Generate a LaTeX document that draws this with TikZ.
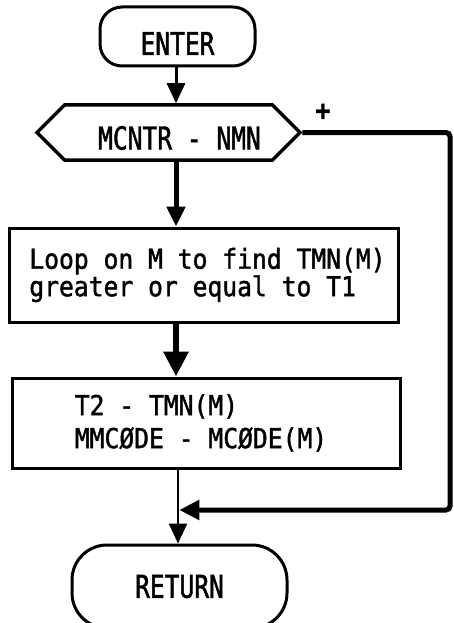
\documentclass[tikz,border=0pt]{standalone}
\usepackage{fontspec}
\usetikzlibrary{arrows.meta,shapes.symbols}
\newfontfamily\termfont[FakeStretch=0.78,FakeBold=1.5]{DejaVu Sans Mono}
\newfontfamily\boxfont[FakeStretch=0.90,FakeBold=1.5]{DejaVu Sans Mono}
\begin{document}
\begin{tikzpicture}[x=1pt,y=-1pt,
  outline/.style={draw=black, line width=3pt, inner sep=0pt},
  term/.style={outline, rectangle},
  tlabel/.style={font=\termfont\fontsize{31.5}{34}\selectfont, inner sep=0pt},
  boxst/.style={outline, rectangle, align=left, font=\boxfont\fontsize{27.4}{27.5}\selectfont},
  flow/.style={draw=black, -{Triangle[length=20pt,width=18pt]}},
  bigflow/.style={draw=black, -{Triangle[length=25pt,width=24pt]}}
]
\useasboundingbox (0,0) rectangle (454,623);
\clip (0,0) rectangle (454,623);

% terminals and boxes
\node[term, minimum width=155pt, minimum height=59pt, rounded corners=22pt,
      label={[tlabel,yshift=-7pt]center:ENTER}] (enter) at (177.5,36.5) {};
\node[outline, shape=signal, signal to=west and east, signal pointer angle=90,
      minimum width=263pt, minimum height=55pt, line width=3.5pt,
      label={[tlabel,xshift=11pt,yshift=-5.5pt]center:MCNTR - NMN}] (dec) at (168.5,132.5) {};
\node[boxst, minimum width=389pt, minimum height=94pt,
      label={[boxst,draw=none,xshift=4pt]center:{Loop on M to find TMN(M)\\greater or equal to T1}}] (loop) at (203.5,275) {};
\node[boxst, minimum width=388pt, minimum height=90pt,
      label={[boxst,draw=none,xshift=-5pt,font=\boxfont\fontsize{27.4}{33}\selectfont]center:{T2 - TMN(M)\\MMCØDE - MCØDE(M)}}] (asgn) at (206,423) {};
\node[term, minimum width=215pt, minimum height=83pt, rounded corners=35pt,
      font=\termfont\fontsize{31.5}{34}\selectfont] (ret) at (179.5,586.5) {RETURN};
\node[font=\boxfont\bfseries\fontsize{28}{28}\selectfont, inner sep=0pt] (plus) at (323,112) {+};

% helper coordinates
\coordinate (ax) at (176,0);
\coordinate (turn) at (450,132.5);
\coordinate (join) at (178,510);

% connectors
\draw[flow, line width=3pt] (enter.south -| ax) -- (dec.north -| ax);
\draw[flow, line width=5pt] (dec.south -| ax) -- (loop.north -| ax);
\draw[bigflow, line width=6pt] (loop.south -| ax) -- (asgn.north -| ax);
\draw[flow, line width=2.5pt] (asgn.south -| join) -- (ret.north -| join);
\draw[line width=5pt, rounded corners=4pt, -{Triangle[length=20pt,width=19pt]}]
  (dec.east) -- (turn) |- ([xshift=1.25pt]join);
\end{tikzpicture}
\end{document}
